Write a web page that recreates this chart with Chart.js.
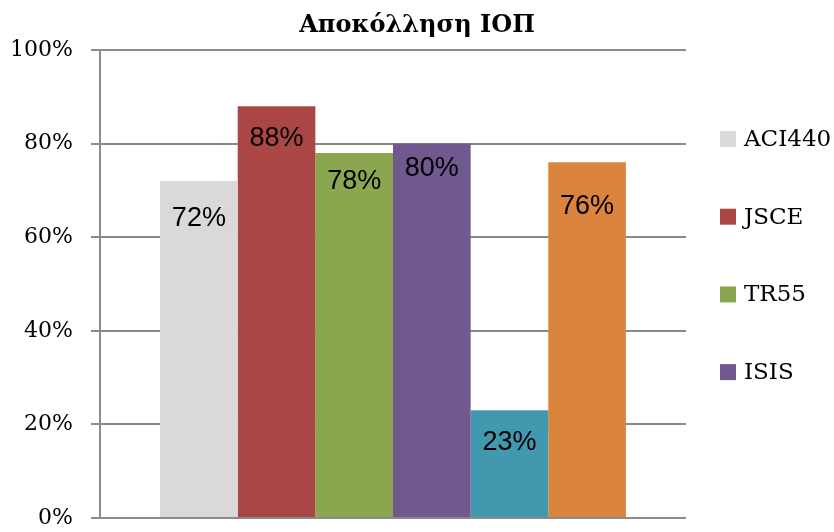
<!DOCTYPE html>
<html>
<head>
<meta charset="utf-8">
<script src="https://cdn.jsdelivr.net/npm/chart.js@4/dist/chart.umd.min.js"></script>
<style>
  html, body { margin: 0; padding: 0; background: #ffffff; }
  #wrap { width: 834px; height: 532px; }
</style>
</head>
<body>
<div id="wrap"><canvas id="c" width="834" height="532"></canvas></div>
<script>
// Chart data
const chartTitle = 'Αποκόλληση ΙΟΠ';
const categories = [''];
const seriesNames = ['ACI440', 'JSCE', 'TR55', 'ISIS'];
const seriesValues = [72, 88, 78, 80, 23, 76];
const yTicks = [0, 20, 40, 60, 80, 100];

const seriesColors = ['#D9D9D9', '#AA4644', '#8AA64E', '#71588F', '#4298AF', '#DB843D'];
// vertical nudge of each value label below its bar top (px)
const labelDrop = [45, 40, 36, 32, 40, 52];

const serif = '"DejaVu Serif", serif';
const sans = '"Liberation Sans", Arial, sans-serif';
const gridColor = '#8a8a8a';

const datasets = seriesValues.map((v, i) => ({
  label: seriesNames[i] || '',
  data: [v],
  backgroundColor: seriesColors[i],
  borderWidth: 0,
  categoryPercentage: 0.795,
  barPercentage: 1.0
}));

// Title, legend and value labels drawn on the chart canvas
const decorations = {
  id: 'decorations',
  afterDatasetsDraw(chart) {
    const ctx = chart.ctx;
    const area = chart.chartArea;
    ctx.save();

    // value labels inside each bar
    ctx.fillStyle = '#000000';
    ctx.font = '27px ' + sans;
    ctx.textAlign = 'center';
    ctx.textBaseline = 'alphabetic';
    chart.data.datasets.forEach((ds, i) => {
      const el = chart.getDatasetMeta(i).data[0];
      ctx.fillText(ds.data[0] + '%', el.x, el.y + labelDrop[i]);
    });

    // title centred on the canvas
    ctx.font = 'bold 24px ' + serif;
    ctx.textBaseline = 'middle';
    ctx.fillText(chartTitle, chart.width / 2, 26);

    // legend column to the right of the plot
    ctx.font = '23px ' + serif;
    ctx.textAlign = 'left';
    const lx = area.right + 34;
    chart.data.datasets.forEach((ds, i) => {
      if (!ds.label) return;
      const cy = area.top + 89 + i * 77.7;
      ctx.fillStyle = ds.backgroundColor;
      ctx.fillRect(lx, cy - 8, 16, 16);
      ctx.fillStyle = '#000000';
      ctx.fillText(ds.label, lx + 24, cy + 1);
    });
    ctx.restore();
  }
};

new Chart(document.getElementById('c'), {
  type: 'bar',
  data: { labels: categories, datasets },
  plugins: [decorations],
  options: {
    responsive: false,
    animation: false,
    layout: { padding: { top: 50, right: 148, bottom: 14, left: 0 } },
    plugins: {
      legend: { display: false },
      title: { display: false },
      tooltip: { enabled: false }
    },
    scales: {
      x: { display: false },
      y: {
        min: yTicks[0],
        max: yTicks[yTicks.length - 1],
        afterBuildTicks(scale) { scale.ticks = yTicks.map(v => ({ value: v })); },
        afterFit(scale) {
          scale.width = 100;
          scale.paddingTop = 0;
          scale.paddingBottom = 0;
        },
        ticks: {
          padding: 18,
          color: '#000000',
          font: { family: serif, size: 22 },
          callback: v => v + '%'
        },
        grid: { color: gridColor, lineWidth: 2, tickLength: 9, drawTicks: true },
        border: { display: true, color: gridColor, width: 2 }
      }
    }
  }
});
</script>
</body>
</html>
